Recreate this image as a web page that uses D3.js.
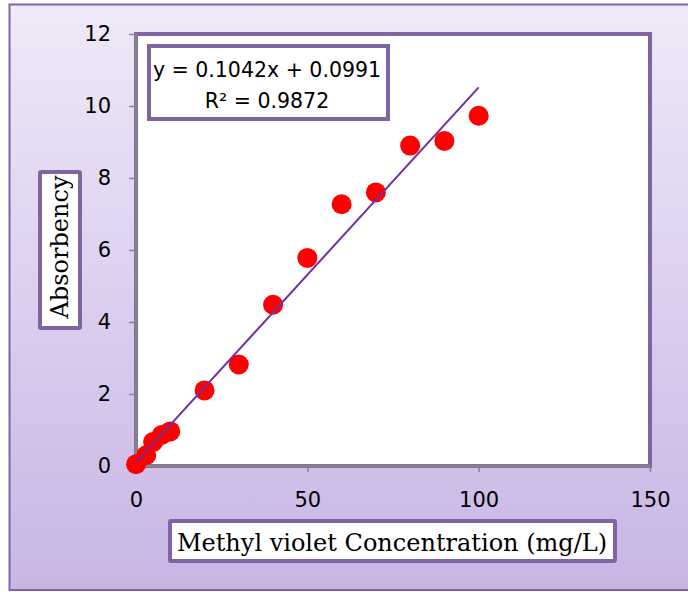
<!DOCTYPE html>
<html>
<head>
<meta charset="utf-8">
<script src="https://cdn.jsdelivr.net/npm/d3@7"></script>
<style>
  html, body { margin: 0; padding: 0; background: #ffffff; }
  svg { display: block; }
</style>
</head>
<body>
<svg id="chart" width="688" height="592"></svg>
<script>
// Calibration data: methyl violet concentration vs absorbency
const concentration = [0, 3, 5, 7.5, 10, 20, 30, 40, 50, 60, 70, 80, 90, 100];
const absorbency = [0.05, 0.3, 0.67, 0.86, 0.96, 2.1, 2.82, 4.48, 5.78, 7.27, 7.6, 8.9, 9.03, 9.73];
const xTicks = [0, 50, 100, 150];
const yTicks = [0, 2, 4, 6, 8, 10, 12];
const slope = 0.1042;
const intercept = 0.0991;
const equationLines = ["y = 0.1042x + 0.0991", "R² = 0.9872"];
const xTitle = "Methyl violet Concentration (mg/L)";
const yTitle = "Absorbency";

const svg = d3.select("#chart");
const purple = "#8064a2";
const sansFont = "'DejaVu Sans', 'Open Sans', sans-serif";
const serifFont = "'DejaVu Serif', 'Liberation Serif', serif";

// Chart area background with vertical lavender gradient
const defs = svg.append("defs");
const grad = defs.append("linearGradient").attr("id", "bg").attr("x1", 0).attr("y1", 0).attr("x2", 0).attr("y2", 1);
grad.append("stop").attr("offset", "0%").attr("stop-color", "#efe9f8");
grad.append("stop").attr("offset", "100%").attr("stop-color", "#c8b5e5");

svg.append("rect")
  .attr("x", 9.5).attr("y", 4.5).attr("width", 700).attr("height", 585.5)
  .attr("fill", "url(#bg)").attr("stroke", purple).attr("stroke-width", 2);

const x = d3.scaleLinear().domain([0, 150]).range([136, 650]);
const y = d3.scaleLinear().domain([0, 12]).range([466, 34]);

// Plot area
svg.append("rect")
  .attr("x", x(0)).attr("y", y(12)).attr("width", x(150) - x(0)).attr("height", y(0) - y(12))
  .attr("fill", "#ffffff").attr("stroke", purple).attr("stroke-width", 4);

// Axes
const xAxis = svg.append("g").attr("transform", `translate(0,${y(0)})`)
  .call(d3.axisBottom(x).tickValues(xTicks).tickSize(6).tickPadding(20).tickFormat(d3.format("d")));
const yAxis = svg.append("g").attr("transform", `translate(${x(0)},0)`)
  .call(d3.axisLeft(y).tickValues(yTicks).tickSize(7).tickPadding(18).tickFormat(d3.format("d")));
[xAxis, yAxis].forEach(g => {
  g.attr("font-size", null).attr("font-family", null);
  g.selectAll("path.domain").attr("stroke", "#868686").attr("stroke-width", 2.5);
  g.selectAll(".tick line").attr("stroke", "#868686").attr("stroke-width", 1.5);
  g.selectAll(".tick text").attr("fill", "#000")
    .attr("font-family", sansFont).attr("font-size", 21);
});
xAxis.select("path.domain").attr("d", `M${x(0)},0H${x(150)}`);
yAxis.select("path.domain").attr("d", `M0,${y(12)}V${y(0)}`);

const trend = [[0, intercept], [100, slope * 100 + intercept]];
const trendLine = d3.line().x(d => x(d[0])).y(d => y(d[1]));

// Data markers
svg.append("g").selectAll("circle")
  .data(concentration.map((c, i) => [c, absorbency[i]]))
  .join("circle")
  .attr("cx", d => x(d[0])).attr("cy", d => y(d[1])).attr("r", 10)
  .attr("fill", "#ff0000");

// Linear trendline drawn over markers
svg.append("path")
  .attr("d", trendLine(trend))
  .attr("fill", "none").attr("stroke", "#7030a0").attr("stroke-width", 2);

// Equation box
svg.append("rect")
  .attr("x", 149).attr("y", 46).attr("width", 239).attr("height", 73)
  .attr("fill", "#fff").attr("stroke", purple).attr("stroke-width", 4);
svg.append("g").selectAll("text").data(equationLines).join("text")
  .attr("x", 267).attr("y", (d, i) => 77 + i * 31)
  .attr("text-anchor", "middle")
  .attr("font-family", sansFont).attr("font-size", 20.5).attr("fill", "#000")
  .text(d => d);

// Y-axis title box
svg.append("rect")
  .attr("x", 40).attr("y", 172).attr("width", 40).attr("height", 156)
  .attr("fill", "#fff").attr("stroke", purple).attr("stroke-width", 4).attr("rx", 1);
svg.append("text")
  .attr("transform", "translate(68,247) rotate(-90)")
  .attr("text-anchor", "middle")
  .attr("font-family", serifFont).attr("font-size", 24).attr("fill", "#000")
  .text(yTitle);

// X-axis title box
svg.append("rect")
  .attr("x", 170).attr("y", 521).attr("width", 445).attr("height", 40)
  .attr("fill", "#fff").attr("stroke", purple).attr("stroke-width", 4).attr("rx", 1);
svg.append("text")
  .attr("x", 392).attr("y", 551)
  .attr("text-anchor", "middle")
  .attr("font-family", serifFont).attr("font-size", 24).attr("fill", "#000")
  .text(xTitle);
</script>
</body>
</html>
